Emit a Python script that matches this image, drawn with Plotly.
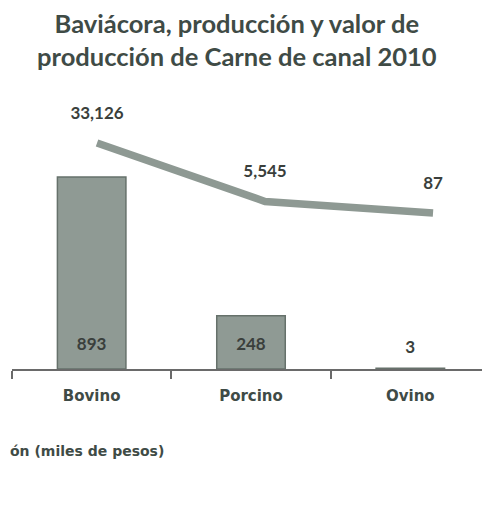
import plotly.graph_objects as go

categories = ["Bovino", "Porcino", "Ovino"]
produccion = [893, 248, 3]            # toneladas (bars)
valor = [33126, 5545, 87]             # miles de pesos (line)
bar_name = "Producción (toneladas)"
line_name = "Valor de producción (miles de pesos)"
legend_visible = "ón (miles de pesos)"   # part of the legend text visible in the crop
title_text = "Baviácora, producción y valor de<br>producción de Carne de canal 2010"

label_color = "#3a3f3c"
title_color = "#3f4b46"
font_main = "Lato"
font_round = "DejaVu Sans"

fig = go.Figure()

fig.add_trace(go.Bar(
    x=categories, y=produccion, name=bar_name,
    marker=dict(color="#8f9a94", line=dict(color="#66716b", width=1.5)),
    text=[f"<span style='font-size:17px'>{v:,}</span><br><span style='font-size:1px'> </span>"
          for v in produccion],
    textposition="inside", insidetextanchor="start",
    constraintext="none", textangle=0,
    textfont=dict(family=font_main, size=12, color=label_color, weight="bold"),
    showlegend=False,
))

fig.add_trace(go.Scatter(
    x=categories, y=valor, name=line_name,
    xaxis="x2", yaxis="y2",
    mode="lines+markers+text",
    line=dict(color="#8e9993", width=7.5),
    marker=dict(size=30, color="rgba(0,0,0,0)"),
    text=[f"{v:,}" for v in valor],
    textposition="top center",
    textfont=dict(family=font_main, size=17, color=label_color, weight="bold"),
    showlegend=False,
))

fig.update_layout(
    width=490, height=510,
    margin=dict(l=4, r=8, t=92, b=149, autoexpand=False),
    paper_bgcolor="white", plot_bgcolor="white",
    bargap=0.57,
    title=dict(text=title_text, x=0.467, xref="container", xanchor="center",
               y=1 - 24.5 / 510, yref="container", yanchor="middle",
               font=dict(family=font_main, size=25.5, color=title_color, weight="bold")),
    xaxis=dict(type="category", showline=True, linecolor="#6a6a6a", linewidth=1.5,
               ticks="outside", tickson="boundaries", ticklen=8, tickcolor="#6a6a6a",
               tickwidth=1.5, ticklabelstandoff=12, showgrid=False, zeroline=False,
               tickfont=dict(family=font_round, size=15, color=title_color, weight="bold")),
    xaxis2=dict(type="category", overlaying="x", range=[-0.506, 2.339],
                visible=False, showgrid=False),
    yaxis=dict(range=[0, 1251], visible=False, showgrid=False, zeroline=False),
    yaxis2=dict(range=[-73546, 53420], overlaying="y", visible=False,
                showgrid=False, zeroline=False),
    annotations=[dict(
        text=legend_visible, xref="paper", yref="paper",
        x=-4 / 478, xanchor="left", y=-(443 - 361) / 269, yanchor="middle",
        showarrow=False,
        font=dict(family=font_round, size=14, color=title_color, weight="bold"),
    )],
)

fig.write_html("out.html")
